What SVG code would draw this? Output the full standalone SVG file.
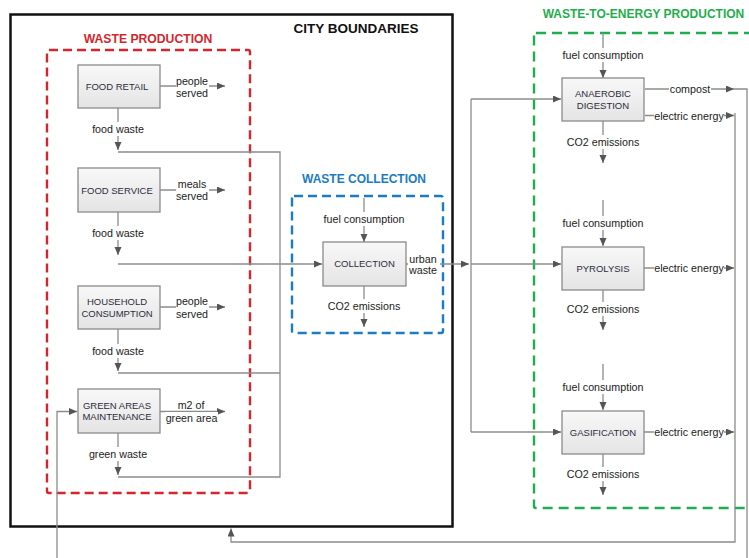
<svg xmlns="http://www.w3.org/2000/svg" width="749" height="558" viewBox="0 0 749 558">
<defs>
<linearGradient id="boxg" x1="0" y1="0" x2="0" y2="1">
<stop offset="0" stop-color="#f8f8f8"/>
<stop offset="1" stop-color="#e4e4e4"/>
</linearGradient>
<marker id="arr" markerUnits="userSpaceOnUse" markerWidth="9" markerHeight="8" refX="8" refY="3.5" orient="auto">
<path d="M0,0 L8,3.5 L0,7 z" fill="#555"/>
</marker>
</defs>
<style>
.box{fill:url(#boxg);stroke:#8a8a8a;stroke-width:1.3}
.bt{font-family:"Liberation Sans",Arial,sans-serif;font-size:9.5px;fill:#2c2c3c;text-anchor:middle}
.lb{font-family:"Liberation Sans",Arial,sans-serif;font-size:10.7px;fill:#222;text-anchor:middle}
.bg{fill:#fff}
.cn{fill:none;stroke:#8c8c8c;stroke-width:1.3}
.ar{marker-end:url(#arr)}
.title{font-family:"Liberation Sans",Arial,sans-serif;font-weight:bold;text-anchor:middle}
</style>
<rect width="749" height="558" fill="#fff"/>

<g id="city-boundaries">
<rect x="10.5" y="14.5" width="442" height="512" fill="none" stroke="#111" stroke-width="2.5"/>
<text class="title" x="356" y="33" font-size="13.5" fill="#111">CITY BOUNDARIES</text>
</g>

<g id="waste-production">
<rect x="47" y="50" width="203" height="443" rx="2" fill="none" stroke="#d4262d" stroke-width="2.4" stroke-dasharray="9 5"/>
<text class="title" x="148" y="43" font-size="12.2" fill="#d4262d">WASTE PRODUCTION</text>
</g>

<g id="waste-collection">
<rect x="292" y="196" width="151" height="137" rx="2" fill="none" stroke="#1b7cc4" stroke-width="2.4" stroke-dasharray="9 5"/>
<text class="title" x="364" y="183" font-size="12" fill="#1b7cc4">WASTE COLLECTION</text>
</g>

<g id="waste-to-energy-production">
<rect x="534" y="33" width="222" height="475" rx="2" fill="none" stroke="#1fae4c" stroke-width="2.4" stroke-dasharray="10 6"/>
<text class="title" x="643.5" y="18" font-size="12" fill="#1fae4c">WASTE-TO-ENERGY PRODUCTION</text>
</g>

<g id="connectors">
<!-- production outputs -->
<path class="cn ar" d="M160,86 H225"/>
<path class="cn ar" d="M160,190 H225"/>
<path class="cn ar" d="M160,307 H225"/>
<path class="cn ar" d="M160,411.5 H225"/>
<!-- food waste -->
<path class="cn ar" d="M118,108 V150"/>
<path class="cn ar" d="M118,212 V255"/>
<path class="cn ar" d="M118,329 V371"/>
<path class="cn ar" d="M118,433 V475"/>
<path class="cn" d="M118,152 H280 V477 H118"/>
<path class="cn" d="M118,373 H280"/>
<path class="cn ar" d="M118,264 H322"/>
<!-- collection -->
<path class="cn ar" d="M364,198 V242"/>
<path class="cn ar" d="M364,286 V327"/>
<path class="cn ar" d="M406,264 H469"/>
<path class="cn" d="M471,99 V432"/>
<path class="cn ar" d="M471,99 H561"/>
<path class="cn ar" d="M471,264 H561"/>
<path class="cn ar" d="M471,432 H561"/>
<!-- anaerobic digestion -->
<path class="cn ar" d="M603,33 V78"/>
<path class="cn ar" d="M603,121 V163"/>
<path class="cn ar" d="M645,89 H734"/>
<path class="cn" d="M734,89 H747 V560"/>
<path class="cn ar" d="M645,115.5 H734"/>
<!-- pyrolysis -->
<path class="cn ar" d="M603,200 V246"/>
<path class="cn ar" d="M603,290 V330"/>
<path class="cn ar" d="M644,268 H734"/>
<!-- gasification -->
<path class="cn ar" d="M603,364 V410"/>
<path class="cn ar" d="M603,454 V495"/>
<path class="cn ar" d="M644,432 H734"/>
<!-- feedback -->
<path class="cn ar" d="M735,113 V542 H231 V528.5"/>
<path class="cn ar" d="M57,560 V411.5 H77"/>

<!-- labels -->
<rect class="bg" x="176" y="74" width="33" height="26"/>
<text class="lb" x="192" y="84.5">people</text>
<text class="lb" x="192" y="96.8">served</text>
<rect class="bg" x="91" y="122" width="54" height="14"/>
<text class="lb" x="118" y="132.8">food waste</text>

<rect class="bg" x="176" y="178" width="33" height="25"/>
<text class="lb" x="192" y="188.3">meals</text>
<text class="lb" x="192" y="199.5">served</text>
<rect class="bg" x="91" y="226" width="54" height="14"/>
<text class="lb" x="118" y="237.1">food waste</text>

<rect class="bg" x="176" y="295" width="33" height="25"/>
<text class="lb" x="192" y="305.1">people</text>
<text class="lb" x="192" y="317.5">served</text>
<rect class="bg" x="91" y="344" width="54" height="14"/>
<text class="lb" x="118" y="354.8">food waste</text>

<rect class="bg" x="178" y="399" width="27" height="11"/>
<rect class="bg" x="165" y="412" width="53" height="12"/>
<text class="lb" x="191" y="408.8">m2 of</text>
<text class="lb" x="191.5" y="421.5">green area</text>
<rect class="bg" x="88" y="447" width="60" height="14"/>
<text class="lb" x="118" y="457.8">green waste</text>

<rect class="bg" x="322" y="212" width="84" height="14"/>
<text class="lb" x="364" y="223.1">fuel consumption</text>
<rect class="bg" x="326" y="299" width="76" height="14"/>
<text class="lb" x="364" y="309.8">CO2 emissions</text>
<rect class="bg" x="408" y="251" width="32" height="26"/>
<text class="lb" x="423" y="262.5">urban</text>
<text class="lb" x="423" y="273.8">waste</text>

<rect class="bg" x="561" y="48" width="84" height="14"/>
<text class="lb" x="603" y="58.8">fuel consumption</text>
<rect class="bg" x="565" y="135" width="76" height="14"/>
<text class="lb" x="603" y="145.8">CO2 emissions</text>
<rect class="bg" x="669" y="82" width="42" height="14"/>
<text class="lb" x="690" y="92.8">compost</text>
<rect class="bg" x="654" y="109" width="70" height="14"/>
<text class="lb" x="689" y="119.5">electric energy</text>

<rect class="bg" x="561" y="216" width="84" height="14"/>
<text class="lb" x="603" y="226.5">fuel consumption</text>
<rect class="bg" x="565" y="302" width="76" height="14"/>
<text class="lb" x="603" y="313.1">CO2 emissions</text>
<rect class="bg" x="654" y="261" width="70" height="14"/>
<text class="lb" x="689" y="272.1">electric energy</text>

<rect class="bg" x="561" y="380" width="84" height="14"/>
<text class="lb" x="603" y="390.8">fuel consumption</text>
<rect class="bg" x="565" y="467" width="76" height="14"/>
<text class="lb" x="603" y="477.8">CO2 emissions</text>
<rect class="bg" x="654" y="425" width="70" height="14"/>
<text class="lb" x="689" y="435.8">electric energy</text>
</g>

<g id="food-retail">
<rect class="box" x="78" y="65" width="82" height="43"/>
<text class="bt" x="117" y="90">FOOD RETAIL</text>
</g>
<g id="food-service">
<rect class="box" x="78" y="168" width="82" height="44"/>
<text class="bt" x="117" y="194">FOOD SERVICE</text>
</g>
<g id="household-consumption">
<rect class="box" x="78" y="286" width="82" height="43"/>
<text class="bt" x="117" y="305">HOUSEHOLD</text>
<text class="bt" x="117" y="316.5">CONSUMPTION</text>
</g>
<g id="green-areas-maintenance">
<rect class="box" x="78" y="389" width="82" height="44"/>
<text class="bt" x="117" y="408.5">GREEN AREAS</text>
<text class="bt" x="117" y="419.5">MAINTENANCE</text>
</g>
<g id="collection">
<rect class="box" x="323" y="242" width="83" height="44"/>
<text class="bt" x="364.5" y="267" font-size="8.7">COLLECTION</text>
</g>
<g id="anaerobic-digestion">
<rect class="box" x="562" y="78" width="82" height="43"/>
<text class="bt" x="603" y="96.5">ANAEROBIC</text>
<text class="bt" x="603" y="108.5">DIGESTION</text>
</g>
<g id="pyrolysis">
<rect class="box" x="562" y="247" width="82" height="43"/>
<text class="bt" x="603" y="271.8">PYROLYSIS</text>
</g>
<g id="gasification">
<rect class="box" x="562" y="411" width="82" height="43"/>
<text class="bt" x="603" y="435.8">GASIFICATION</text>
</g>
</svg>
